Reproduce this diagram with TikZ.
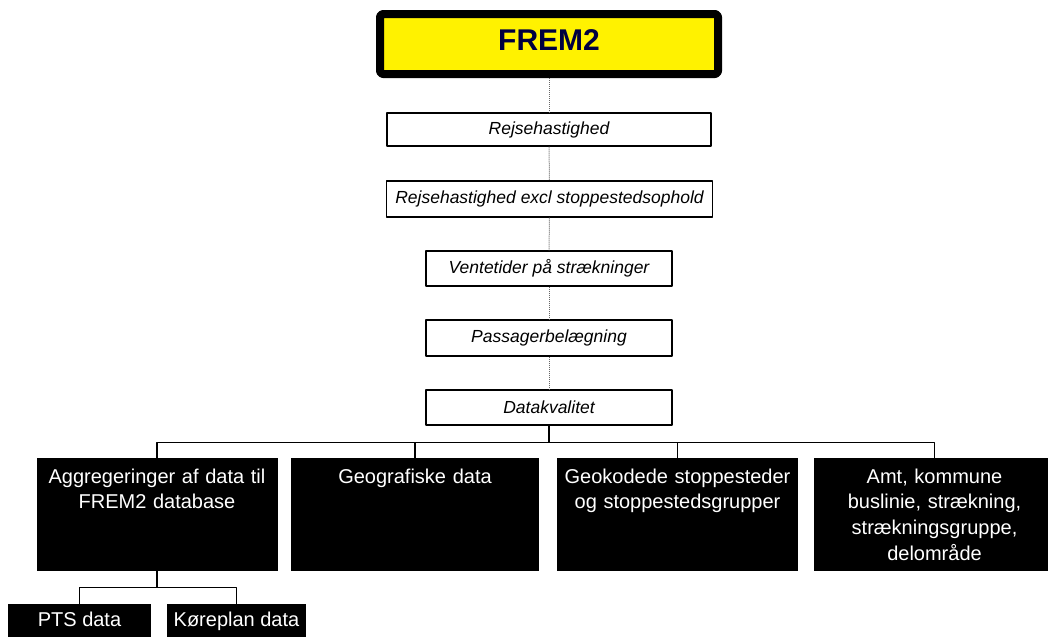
\documentclass[tikz,border=0pt]{standalone}
\usepackage{fontspec}
\setmainfont{Liberation Sans}
\definecolor{navy}{RGB}{0,0,64}
\begin{document}
\begin{tikzpicture}[x=1pt, y=-1pt, line join=round,
	topbox/.style={draw=black, line width=8pt, rounded corners=3pt, fill=yellow, text=navy, inner sep=0pt, minimum width=338pt, minimum height=60pt, text depth=7.5pt, font=\fontsize{30}{36}\selectfont\bfseries},
	kvbox/.style={draw, line width=1.2pt, fill=white, inner sep=0pt, minimum height=35pt, font=\fontsize{17.5}{21}\selectfont\itshape},
	databox/.style={fill=black, text=white, inner sep=0pt, align=center, anchor=north, text width=241pt, text height=25pt, text depth=88pt, font=\fontsize{20}{25.7}\selectfont},
	subbox/.style={fill=black, text=white, inner sep=0pt, anchor=north, text height=22pt, text depth=11pt, font=\fontsize{20}{24}\selectfont},
	dots/.style={black!60, densely dotted, line width=1pt},
	tree/.style={line width=1.2pt}]
	\useasboundingbox (0,0) rectangle (1048,637);
	% kaede af noegletal
	\node[topbox] (frem) at (549,44) {FREM2};
	\draw[line width=1.2pt] ([shift={(7.5,5.5)}]frem.north west) rectangle ([shift={(-7,-7.5)}]frem.south east);
	\node[kvbox, minimum width=324pt, minimum height=33pt] (rh) at (549,129.5) {Rejsehastighed};
	\node[kvbox, minimum width=326pt, minimum height=36pt] (rhx) at (549.5,199) {Rejsehastighed excl stoppestedsophold};
	\node[kvbox, minimum width=246pt] (vt) at (549,268.5) {Ventetider på strækninger};
	\node[kvbox, minimum width=246pt, minimum height=36pt] (pb) at (549,338) {Passagerbelægning};
	\node[kvbox, minimum width=246pt] (dk) at (549,407.5) {Datakvalitet};
	\draw[dots] (frem) -- (rh);
	\draw[dots] (rh) -- (rhx);
	\draw[dots] (rhx) -- (vt);
	\draw[dots] (vt) -- (pb);
	\draw[dots] (pb) -- (dk);
	% datakilder
	\node[databox] (agg) at (157,458) {Aggregeringer af data til\\FREM2 database};
	\node[databox, text width=248pt] (geo) at (415,458) {Geografiske data};
	\node[databox] (geok) at (677.5,458) {Geokodede stoppesteder\\og stoppestedsgrupper};
	\node[databox] (amt) at (934.5,458) {Amt, kommune\\buslinie, strækning,\\strækningsgruppe,\\delområde};
	\foreach \n in {agg,geo,geok,amt}
		\draw[tree] (dk.south) -- ++(0,17) -| (\n.north);
	\node[subbox, minimum width=143pt] (pts) at (79.5,604) {PTS data};
	\node[subbox, minimum width=139pt] (koer) at (236.5,604) {Køreplan data};
	\draw[tree] (agg.south) -- ++(0,16) -| (pts.north);
	\draw[tree] (agg.south) -- ++(0,16) -| (koer.north);
\end{tikzpicture}
\end{document}
